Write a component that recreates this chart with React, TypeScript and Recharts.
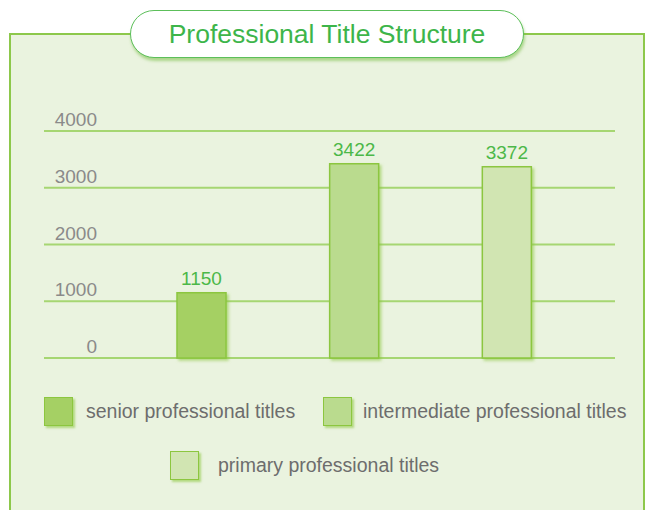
import { Bar, BarChart, CartesianGrid, Cell, LabelList, XAxis, YAxis } from "recharts";

const categories = ["senior professional titles", "intermediate professional titles", "primary professional titles"];
const counts = [1150, 3422, 3372];
const fills = ["#a5d064", "#badb8e", "#d1e5b2"];
const yTicks = [0, 1000, 2000, 3000, 4000];

const data = categories.map((name, i) => ({ name, value: counts[i], fill: fills[i] }));

const FONT = '"Liberation Sans", Arial, sans-serif';
const EDGE = "#8cc63f";

// tick labels sit above their gridline, right-aligned
const TickLabel = (props: any) => {
  const { y, payload } = props;
  return (
    <text x={97} y={y - 5} textAnchor="end" fill="#8a8a8a" fontSize={19} fontFamily={FONT}>
      {payload.value}
    </text>
  );
};

const legendRows = [
  [
    { idx: 0, left: 44, gap: 13 },
    { idx: 1, left: 323, gap: 11 },
  ],
  [{ idx: 2, left: 170, gap: 19 }],
];

export default function App() {
  return (
    <div style={{ position: "absolute", left: 0, top: 0, width: 645, height: 510, overflow: "hidden", fontFamily: FONT }}>
      {/* panel */}
      <div
        style={{
          position: "absolute",
          left: 9,
          top: 33,
          width: 632,
          height: 500,
          border: "2px solid #8dc84b",
          background: "#eaf3df",
        }}
      />
      {/* title pill */}
      <div
        style={{
          position: "absolute",
          left: 130,
          top: 10,
          width: 392,
          height: 46,
          borderRadius: 24,
          border: "1.5px solid #5cbf5a",
          background: "#ffffff",
          boxShadow: "1px 3px 3px rgba(120,190,70,0.55)",
          display: "flex",
          alignItems: "center",
          justifyContent: "center",
          color: "#3db54a",
          fontSize: 26.5,
        }}
      >
        Professional Title Structure
      </div>

      <div style={{ position: "absolute", left: 0, top: 0 }}>
        <BarChart width={645} height={380} data={data} margin={{ top: 131, right: 30, bottom: 22, left: 42 }}>
          <defs>
            <filter id="bar-shadow" x="-20%" y="-20%" width="150%" height="150%">
              <feDropShadow dx={2} dy={2} stdDeviation={1.5} floodColor="#8cc63f" floodOpacity={0.6} />
            </filter>
          </defs>
          <CartesianGrid vertical={false} stroke="#a6d672" strokeWidth={2} />
          <XAxis dataKey="name" hide padding={{ left: 81, right: 32 }} />
          <YAxis
            width={2}
            domain={[0, 4000]}
            ticks={yTicks}
            axisLine={false}
            tickLine={false}
            tick={<TickLabel />}
          />
          <Bar
            dataKey="value"
            barSize={49}
            stroke={EDGE}
            strokeWidth={1.5}
            filter="url(#bar-shadow)"
            isAnimationActive={false}
          >
            {data.map((d) => (
              <Cell key={d.name} fill={d.fill} />
            ))}
            <LabelList dataKey="value" position="top" offset={8} fill="#4cb848" fontSize={19} fontFamily={FONT} />
          </Bar>
        </BarChart>
      </div>

      {/* legend */}
      {legendRows.map((row, r) => (
        <div key={r} style={{ position: "absolute", left: 0, top: r === 0 ? 396 : 450, height: 30, width: 645 }}>
          {row.map((item) => (
            <div
              key={item.idx}
              style={{ position: "absolute", left: item.left, top: 0, display: "flex", alignItems: "center", height: 30 }}
            >
              <div
                style={{
                  width: 29,
                  height: 29,
                  background: fills[item.idx],
                  border: `1.5px solid ${EDGE}`,
                  boxSizing: "border-box",
                  boxShadow: "2px 2px 2px rgba(140,198,63,0.6)",
                }}
              />
              <span style={{ marginLeft: item.gap, color: "#6d6d6d", fontSize: 19.5, whiteSpace: "nowrap" }}>
                {categories[item.idx]}
              </span>
            </div>
          ))}
        </div>
      ))}
    </div>
  );
}
